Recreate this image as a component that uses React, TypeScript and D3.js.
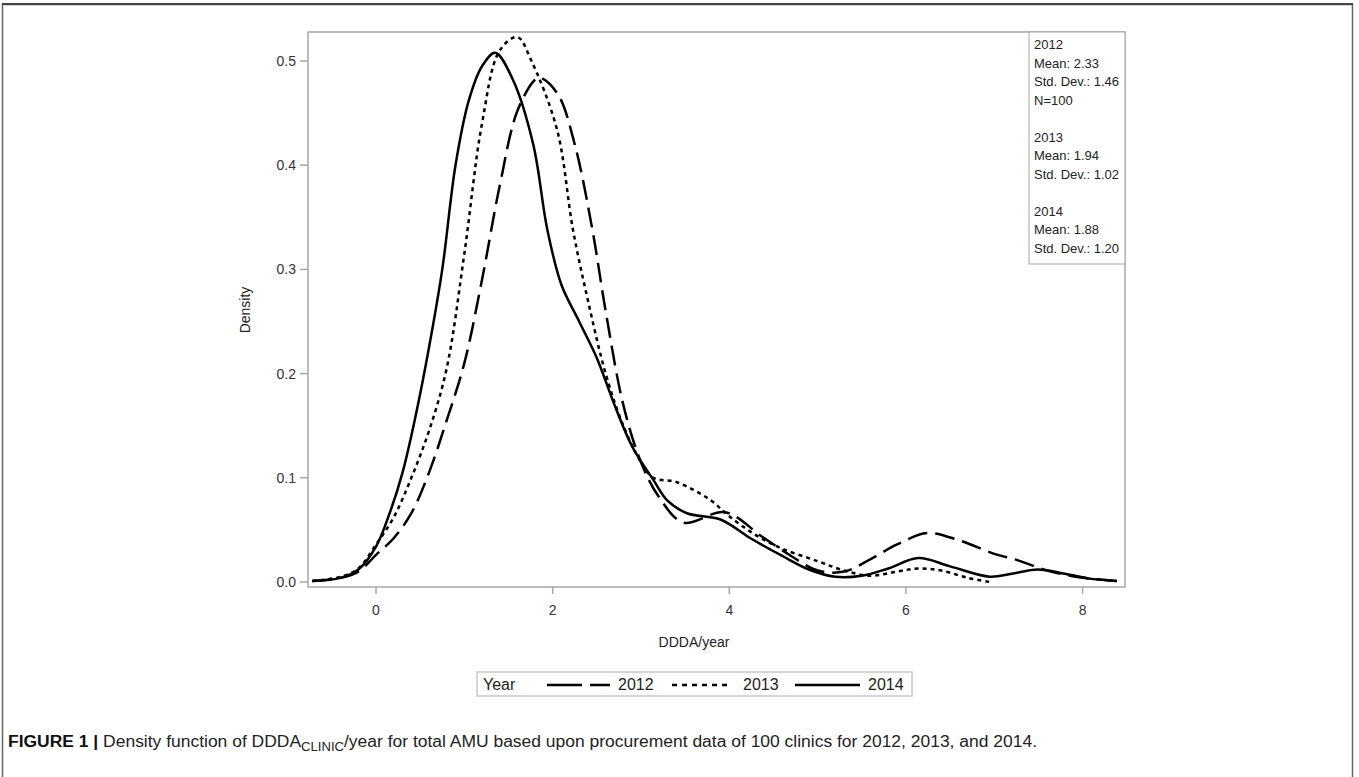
import React from "react";
import * as d3 from "d3";

const years = ["2012", "2013", "2014"];
const dashes = ["20,8", "4,4", null];

const x2012 = [-0.72, -0.4, -0.2, 0, 0.2, 0.4, 0.6, 0.8, 1.0, 1.2, 1.4, 1.6, 1.8, 1.86, 2.06, 2.25, 2.45, 2.6, 2.8, 3.0, 3.2, 3.48, 3.95, 4.38, 4.7, 5.0, 5.3, 5.6, 5.9, 6.24, 6.6, 7.0, 7.26, 7.6, 8.0, 8.39];
const y2012 = [0.001, 0.004, 0.01, 0.026, 0.042, 0.066, 0.105, 0.155, 0.21, 0.29, 0.38, 0.452, 0.482, 0.484, 0.468, 0.42, 0.338, 0.26, 0.17, 0.115, 0.082, 0.057, 0.067, 0.043, 0.025, 0.011, 0.01, 0.022, 0.036, 0.047, 0.04, 0.027, 0.021, 0.011, 0.004, 0.001];

const x2013 = [-0.72, -0.4, -0.2, 0, 0.2, 0.4, 0.6, 0.8, 1.0, 1.2, 1.4, 1.6, 1.76, 2.05, 2.23, 2.4, 2.6, 2.8, 3.0, 3.14, 3.4, 3.78, 4.0, 4.3, 4.6, 5.0, 5.3, 5.6, 5.9, 6.14, 6.4, 6.7, 6.95];
const y2013 = [0.001, 0.005, 0.013, 0.036, 0.062, 0.1, 0.145, 0.205, 0.315, 0.44, 0.51, 0.523, 0.5, 0.434, 0.338, 0.27, 0.2, 0.15, 0.115, 0.1, 0.096, 0.079, 0.063, 0.045, 0.032, 0.02, 0.011, 0.006, 0.01, 0.013, 0.011, 0.004, 0.0];

const x2014 = [-0.72, -0.4, -0.2, 0, 0.15, 0.3, 0.45, 0.6, 0.75, 0.9, 1.05, 1.2, 1.35, 1.55, 1.78, 1.94, 2.1, 2.3, 2.5, 2.7, 2.9, 3.14, 3.3, 3.52, 3.9, 4.24, 4.6, 4.9, 5.2, 5.5, 5.8, 6.14, 6.5, 6.95, 7.2, 7.49, 7.8, 8.1, 8.39];
const y2014 = [0.001, 0.004, 0.012, 0.034, 0.065, 0.105, 0.16, 0.225, 0.3, 0.4, 0.462, 0.495, 0.508, 0.482, 0.42, 0.338, 0.285, 0.25, 0.215, 0.17, 0.13, 0.098, 0.078, 0.066, 0.06, 0.042, 0.025, 0.012, 0.005, 0.006, 0.013, 0.023, 0.015, 0.005, 0.008, 0.012, 0.008, 0.003, 0.001];

const xs = [x2012, x2013, x2014];
const ys = [y2012, y2013, y2014];

const xTicks = [0, 2, 4, 6, 8];
const yTicks = [0.0, 0.1, 0.2, 0.3, 0.4, 0.5];

const insetLines = [
  "2012", "Mean: 2.33", "Std. Dev.: 1.46", "N=100", "",
  "2013", "Mean: 1.94", "Std. Dev.: 1.02", "",
  "2014", "Mean: 1.88", "Std. Dev.: 1.20",
];

const FONT = "'Liberation Sans', Arial, sans-serif";

export default function App() {
  const W = 1359, H = 777;
  const left = 308, right = 1125, top = 32, bottom = 587;
  const x = d3.scaleLinear().domain([-0.77, 8.48]).range([left, right]);
  const y = d3.scaleLinear().domain([0, 0.5]).range([582, 61]);

  const line = d3
    .line<[number, number]>()
    .x((d) => x(d[0]))
    .y((d) => y(d[1]))
    .curve(d3.curveCatmullRom.alpha(0.5));

  const insetW = 96;
  const insetX = right - insetW;
  const lineH = 18.5;

  const legX = 477, legY = 672, legW = 435, legH = 24;
  const legItems = [
    { x1: 547, x2: 610, tx: 618 },
    { x1: 672, x2: 730, tx: 743 },
    { x1: 795, x2: 860, tx: 868 },
  ];

  return (
    <svg
      width={W}
      height={H}
      style={{ position: "absolute", left: 0, top: 0, background: "#fff" }}
      fontFamily={FONT}
    >
      <rect x={2.5} y={4.5} width={1350} height={820} fill="none" stroke="#666" strokeWidth={1.5} />
      <line x1={2} x2={1353} y1={4} y2={4} stroke="#444" strokeWidth={2} />

      {/* plot frame */}
      <rect x={left} y={top} width={right - left} height={bottom - top} fill="none" stroke="#a6a6a6" strokeWidth={1.5} />

      {/* y ticks */}
      {yTicks.map((t) => (
        <g key={t}>
          <line x1={left - 8} x2={left} y1={y(t)} y2={y(t)} stroke="#a6a6a6" strokeWidth={1.5} />
          <text x={left - 12} y={y(t) + 5} textAnchor="end" fontSize={14} fill="#333">
            {t.toFixed(1)}
          </text>
        </g>
      ))}
      {/* x ticks */}
      {xTicks.map((t) => (
        <g key={t}>
          <line x1={x(t)} x2={x(t)} y1={bottom} y2={bottom + 7} stroke="#a6a6a6" strokeWidth={1.5} />
          <text x={x(t)} y={615} textAnchor="middle" fontSize={14} fill="#333">
            {t}
          </text>
        </g>
      ))}

      <text x={694} y={647} textAnchor="middle" fontSize={14} fill="#222">DDDA/year</text>
      <text transform={`translate(250,310) rotate(-90)`} textAnchor="middle" fontSize={14} fill="#222">
        Density
      </text>

      {/* curves */}
      {years.map((yr, i) => (
        <path
          key={yr}
          d={line(xs[i].map((v, j) => [v, ys[i][j]] as [number, number])) || ""}
          fill="none"
          stroke="#000"
          strokeWidth={2.5}
          strokeDasharray={dashes[i] || undefined}
        />
      ))}

      {/* inset */}
      <rect x={insetX} y={top} width={insetW} height={lineH * insetLines.length + 10} fill="#fff" stroke="#a6a6a6" strokeWidth={1} />
      {insetLines.map((s, i) => (
        <text key={i} x={insetX + 5} y={top + 17 + i * lineH} fontSize={13} fill="#222">
          {s}
        </text>
      ))}

      {/* bottom legend */}
      <rect x={legX} y={legY} width={legW} height={legH} fill="#fff" stroke="#c8c8c8" strokeWidth={1.5} />
      <text x={legX + 6} y={legY + 18} fontSize={16} fill="#222">Year</text>
      {legItems.map((it, i) => (
        <g key={i}>
          <line
            x1={it.x1}
            x2={it.x2}
            y1={legY + 13}
            y2={legY + 13}
            stroke="#000"
            strokeWidth={2.5}
            strokeDasharray={i === 0 ? "35,8" : i === 1 ? "5,5" : undefined}
          />
          <text x={it.tx} y={legY + 18} fontSize={16} fill="#222">{years[i]}</text>
        </g>
      ))}

      {/* caption */}
      <text
        x={8}
        y={747}
        fontSize={16}
        fill="#222"
        textLength={1029}
        lengthAdjust="spacingAndGlyphs"
        fontFamily="'Liberation Sans Narrow', 'Liberation Sans', Arial, sans-serif"
      >
        <tspan fontWeight="bold" fill="#111">FIGURE 1 |</tspan>
        <tspan> Density function of DDDA</tspan>
        <tspan fontSize={12} dy={4}>CLINIC</tspan>
        <tspan dy={-4}>/year for total AMU based upon procurement data of 100 clinics for 2012, 2013, and 2014.</tspan>
      </text>
    </svg>
  );
}
